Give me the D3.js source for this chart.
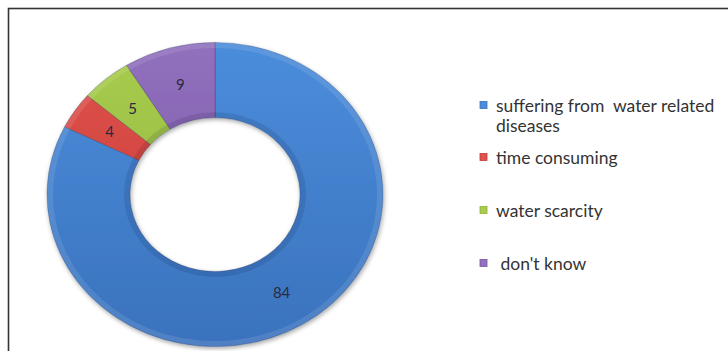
<!DOCTYPE html>
<html><head><meta charset="utf-8">
<script src="https://cdn.jsdelivr.net/npm/d3@7"></script>
<style>body{margin:0;background:#fff}svg{display:block}</style>
</head><body>
<script>
const categories = ["suffering from  water related diseases", "time consuming", "water scarcity", "don't know"];
const legendLines = [["suffering from  water related", "diseases"], ["time consuming"], ["water scarcity"], [" don't know"]];
const values = [84, 4, 5, 9];
const colorsTop = ["#4b8ddb", "#e0524c", "#a8cc4e", "#9170bd"];
const colorsBot = ["#3a72bd", "#c23a35", "#8fb23a", "#7654a3"];

const W = 728, H = 351;
const svg = d3.select("body").append("svg").attr("width", W).attr("height", H);
const defs = svg.append("defs");

// frame
svg.append("rect").attr("x", 8.5).attr("y", 8.5).attr("width", 740).attr("height", 360)
  .attr("fill", "#fff").attr("stroke", "#333").attr("stroke-width", 1.6);

const cx = 215, cy = 194.5, rOut = 168, rIn = 85, sy = 0.905;

values.forEach((v, i) => {
  const g = defs.append("linearGradient").attr("id", "g" + i)
    .attr("gradientUnits", "userSpaceOnUse").attr("x1", 0).attr("y1", -rOut).attr("x2", 0).attr("y2", rOut);
  g.append("stop").attr("offset", "0%").attr("stop-color", colorsTop[i]);
  g.append("stop").attr("offset", "100%").attr("stop-color", colorsBot[i]);
});
const sh = defs.append("filter").attr("id", "sh").attr("x", "-20%").attr("y", "-20%").attr("width", "140%").attr("height", "140%");
sh.append("feGaussianBlur").attr("in", "SourceAlpha").attr("stdDeviation", 2.5).attr("result", "b");
sh.append("feOffset").attr("in", "b").attr("dx", 1).attr("dy", 2).attr("result", "o");
sh.append("feComponentTransfer").attr("in", "o").attr("result", "o2")
  .append("feFuncA").attr("type", "linear").attr("slope", 0.35);
const m = sh.append("feMerge");
m.append("feMergeNode").attr("in", "o2");
m.append("feMergeNode").attr("in", "SourceGraphic");

const pie = d3.pie().sort(null).value(d => d);
const arcs = pie(values);
const arc = d3.arc().innerRadius(rIn).outerRadius(rOut);
const arcInner = d3.arc().innerRadius(rIn).outerRadius(rIn + 6);
const arcOuter = d3.arc().innerRadius(rOut - 6).outerRadius(rOut);

const g = svg.append("g").attr("transform", `translate(${cx},${cy}) scale(1,${sy})`);
const ring = g.append("g").attr("filter", "url(#sh)");
ring.selectAll("path.s").data(arcs).join("path").attr("class", "s")
  .attr("d", arc).attr("fill", (d, i) => `url(#g${i})`)
  .attr("stroke", "rgba(30,40,80,0.35)").attr("stroke-width", 0.8);
// bevel highlights
g.selectAll("path.hi").data(arcs).join("path").attr("class", "hi")
  .attr("d", arcOuter).attr("fill", "rgba(255,255,255,0.10)");
g.selectAll("path.lo").data(arcs).join("path").attr("class", "lo")
  .attr("d", arcInner).attr("fill", "rgba(0,0,30,0.10)");

// labels
const labelArc = d3.arc().innerRadius((rIn + rOut) / 2).outerRadius((rIn + rOut) / 2);
svg.append("g").selectAll("text").data(arcs).join("text")
  .attr("x", d => cx + labelArc.centroid(d)[0])
  .attr("y", d => cy + labelArc.centroid(d)[1] * sy)
  .attr("text-anchor", "middle").attr("dominant-baseline", "central")
  .attr("font-family", "Lato, 'Open Sans', sans-serif").attr("font-size", 15)
  .attr("fill", "#2a2a40").text(d => d.data);

// legend
const legY = [105, 157, 210, 263];
const lg = svg.append("g").attr("font-family", "Lato, 'Open Sans', sans-serif").attr("font-size", 17.5).attr("fill", "#333");
categories.forEach((c, i) => {
  lg.append("rect").attr("x", 480).attr("y", legY[i] - 3.5).attr("width", 7).attr("height", 7)
    .attr("fill", colorsTop[i]).attr("stroke", colorsBot[i]).attr("stroke-width", 0.8);
  const t = lg.append("text").attr("x", 496).attr("y", legY[i]).attr("dominant-baseline", "central")
    .attr("xml:space", "preserve").style("white-space", "pre");
  legendLines[i].forEach((line, j) => {
    t.append("tspan").attr("x", 496).attr("dy", j === 0 ? 0 : 20).text(line);
  });
});
</script>
</body></html>
